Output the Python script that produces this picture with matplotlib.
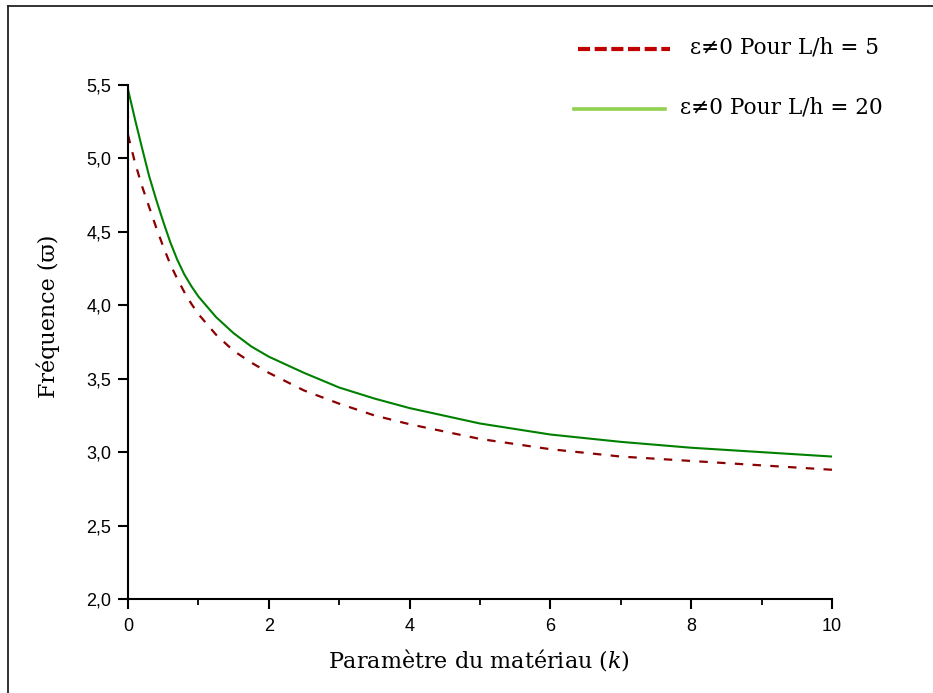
import matplotlib
matplotlib.use("Agg")
import matplotlib.pyplot as plt
from matplotlib.lines import Line2D
from matplotlib.ticker import MultipleLocator, FuncFormatter

plt.rcParams['font.family'] = ['Liberation Sans', 'DejaVu Sans']
plt.rcParams['mathtext.fontset'] = 'dejavuserif'

# Data
k = [0, 0.1, 0.2, 0.3, 0.4, 0.5, 0.6, 0.7, 0.8, 0.9, 1.0, 1.25, 1.5, 1.75,
     2.0, 2.5, 3.0, 3.5, 4.0, 5.0, 6.0, 7.0, 8.0, 9.0, 10.0]
freq_L5 = [5.16, 4.97, 4.81, 4.67, 4.53, 4.40, 4.28, 4.18, 4.09, 4.01, 3.94,
           3.80, 3.69, 3.61, 3.54, 3.42, 3.33, 3.25, 3.19, 3.09, 3.02, 2.97,
           2.94, 2.91, 2.88]
freq_L20 = [5.47, 5.265, 5.07, 4.88, 4.72, 4.57, 4.43, 4.31, 4.21, 4.13, 4.06,
            3.92, 3.81, 3.72, 3.65, 3.54, 3.44, 3.365, 3.30, 3.195, 3.12, 3.07,
            3.03, 3.00, 2.97]
label_L5 = "ε≠0 Pour L/h = 5"
label_L20 = "ε≠0 Pour L/h = 20"
xlabel = "Paramètre du matériau ($k$)"
ylabel = "Fréquence (ϖ)"

W, H = 933, 693
fig = plt.figure(figsize=(W / 100, H / 100), dpi=100)
ax = fig.add_axes([128 / W, 1 - 599 / H, (832 - 128) / W, (599 - 85) / H])

ax.plot(k, freq_L20, color='#008000', lw=1.5, solid_joinstyle='round')
ax.plot(k, freq_L5, color='#8B0000', lw=1.6, linestyle=(0, (3.8, 4.2)))

ax.set_xlim(0, 10)
ax.set_ylim(2.0, 5.5)
for s in ['top', 'right']:
    ax.spines[s].set_visible(False)
for s in ['left', 'bottom']:
    ax.spines[s].set_linewidth(1.5)

ax.xaxis.set_major_locator(MultipleLocator(2))
ax.xaxis.set_minor_locator(MultipleLocator(1))
ax.yaxis.set_major_locator(MultipleLocator(0.5))
ax.yaxis.set_major_formatter(FuncFormatter(lambda v, p: f"{v:.1f}".replace('.', ',')))
ax.xaxis.set_major_formatter(FuncFormatter(lambda v, p: f"{v:.0f}"))
ax.tick_params(axis='both', which='major', direction='out', length=7, width=1.5,
               labelsize=13, colors='black')
ax.tick_params(axis='x', which='major', pad=7)
ax.tick_params(axis='y', which='major', pad=5)
ax.tick_params(axis='x', which='minor', direction='out', length=4, width=1.3)

# axis labels
fig.text(479 / W, 1 - 660 / H, xlabel, ha='center', va='center',
         family='DejaVu Serif', fontsize=16)
fig.text(48 / W, 1 - 316 / H, ylabel, ha='center', va='center', rotation=90,
         family='DejaVu Serif', fontsize=16)

# manual legend (as drawn in the reference)
fig.add_artist(Line2D([578 / W, 670 / W], [1 - 49 / H, 1 - 49 / H],
                      transform=fig.transFigure, color='#C00000', lw=3,
                      linestyle=(0, (2.9, 1.1))))
fig.text(690 / W, 1 - 47 / H, label_L5, ha='left', va='center',
         family='DejaVu Serif', fontsize=15.6)
fig.add_artist(Line2D([574 / W, 665 / W], [1 - 109 / H, 1 - 109 / H],
                      transform=fig.transFigure, color='#92D050', lw=2.6))
fig.text(680 / W, 1 - 107 / H, label_L20, ha='left', va='center',
         family='DejaVu Serif', fontsize=15.6)

# outer frame (only top and left edges visible)
fig.add_artist(Line2D([8 / W, 1.0], [1 - 5.5 / H, 1 - 5.5 / H],
                      transform=fig.transFigure, color='#222222', lw=1.3))
fig.add_artist(Line2D([8 / W, 8 / W], [1 - 5.5 / H, 0.0],
                      transform=fig.transFigure, color='#222222', lw=1.3))

fig.savefig('out.png', dpi=100)
